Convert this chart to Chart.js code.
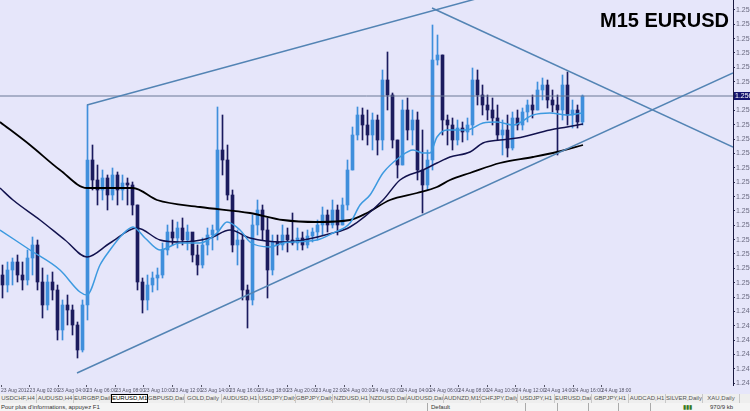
<!DOCTYPE html>
<html>
<head>
<meta charset="utf-8">
<script src="https://cdn.jsdelivr.net/npm/chart.js@4.4.0/dist/chart.umd.min.js"></script>
<style>
body { margin: 0; width: 750px; height: 411px; overflow: hidden; background: #e6e6fa; font-family: "Liberation Sans", Arial, sans-serif; position: relative; }
#wrap { position: absolute; left: 0; top: 0; width: 750px; height: 394px; }
#title { position: absolute; left: 600px; top: 10px; font: bold 20px/20px "Liberation Sans", Arial, sans-serif; color: #000; white-space: nowrap; }
#tabs { position: absolute; left: 0; top: 394px; width: 750px; height: 9px; background: #eeeeee; display: flex; font-size: 6px; line-height: 9px; color: #555; }
#tabs span { width: 37px; flex: none; text-align: center; white-space: nowrap; overflow: hidden; box-sizing: border-box; border-right: 1px solid #c8c8c8; }
#tabs span.on { background: #fff; border: 1px solid #000; line-height: 7px; color: #000; }
#status { position: absolute; left: 0; top: 403px; width: 750px; height: 8px; background: #f4f4f4; font-size: 6px; line-height: 8px; color: #333; }
#status span { position: absolute; top: 0; white-space: nowrap; }
#status .sep { border-left: 1px solid #aaa; height: 8px; }
</style>
</head>
<body>
<div id="wrap"><canvas id="chart" width="750" height="394"></canvas></div>
<div id="title">M15 EURUSD</div>
<div id="tabs"></div>
<div id="status">
  <span style="left:1px">Pour plus d'informations, appuyez F1</span>
  <span class="sep" style="left:427px"></span><span style="left:431px">Default</span>
  <span class="sep" style="left:525px"></span>
  <span class="sep" style="left:557px"></span>
  <span class="sep" style="left:588px"></span>
  <span class="sep" style="left:618px"></span>
  <span class="sep" style="left:650px"></span>
  <span style="left:683px;color:#3a7a20">▮▮▮</span>
  <span style="left:710px">970/9 kb</span>
</div>
<script>
// M15 bars
const firstOpen = 1.25075;
const highs = [
    1.25105, 1.25114, 1.25126, 1.25135, 1.25114, 1.25150, 1.25189, 1.25180, 1.25096, 1.25075,
    1.25084, 1.25045, 1.25000, 1.25015, 1.24985, 1.24934, 1.25000, 1.25585, 1.25465, 1.25405,
    1.25390, 1.25375, 1.25396, 1.25384, 1.25375, 1.25366, 1.25354, 1.25285, 1.25066, 1.25075,
    1.25084, 1.25096, 1.25171, 1.25225, 1.25240, 1.25234, 1.25246, 1.25225, 1.25195, 1.25165,
    1.25186, 1.25216, 1.25225, 1.25579, 1.25555, 1.25465, 1.25330, 1.25210, 1.25195, 1.25045,
    1.25255, 1.25300, 1.25285, 1.25246, 1.25195, 1.25195, 1.25225, 1.25216, 1.25261, 1.25216,
    1.25204, 1.25210, 1.25216, 1.25240, 1.25279, 1.25270, 1.25300, 1.25285, 1.25306, 1.25420,
    1.25519, 1.25579, 1.25576, 1.25570, 1.25561, 1.25555, 1.25690, 1.25744, 1.25621, 1.25480,
    1.25600, 1.25606, 1.25570, 1.25564, 1.25510, 1.25450, 1.25825, 1.25795, 1.25735, 1.25555,
    1.25546, 1.25540, 1.25534, 1.25546, 1.25696, 1.25690, 1.25645, 1.25615, 1.25606, 1.25585,
    1.25540, 1.25555, 1.25564, 1.25570, 1.25576, 1.25600, 1.25615, 1.25654, 1.25666, 1.25660,
    1.25630, 1.25615, 1.25675, 1.25684, 1.25600, 1.25585, 1.25615
];
const lows = [
    1.25006, 1.25024, 1.25045, 1.25054, 1.25030, 1.25045, 1.25075, 1.25030, 1.24946, 1.24970,
    1.25000, 1.24880, 1.24880, 1.24925, 1.24895, 1.24826, 1.24844, 1.24940, 1.25330, 1.25285,
    1.25300, 1.25270, 1.25300, 1.25285, 1.25300, 1.25285, 1.25255, 1.25030, 1.24961, 1.24970,
    1.25024, 1.25030, 1.25066, 1.25135, 1.25165, 1.25156, 1.25165, 1.25150, 1.25114, 1.25075,
    1.25096, 1.25135, 1.25150, 1.25180, 1.25375, 1.25300, 1.25144, 1.25105, 1.25000, 1.24916,
    1.24985, 1.25195, 1.25180, 1.25006, 1.25075, 1.25135, 1.25150, 1.25144, 1.25165, 1.25150,
    1.25150, 1.25156, 1.25174, 1.25180, 1.25195, 1.25204, 1.25216, 1.25195, 1.25225, 1.25270,
    1.25390, 1.25480, 1.25480, 1.25465, 1.25450, 1.25435, 1.25450, 1.25570, 1.25456, 1.25366,
    1.25405, 1.25480, 1.25465, 1.25360, 1.25261, 1.25330, 1.25390, 1.25705, 1.25495, 1.25465,
    1.25450, 1.25465, 1.25474, 1.25480, 1.25495, 1.25585, 1.25555, 1.25540, 1.25525, 1.25480,
    1.25435, 1.25429, 1.25450, 1.25510, 1.25510, 1.25534, 1.25546, 1.25570, 1.25600, 1.25576,
    1.25564, 1.25435, 1.25540, 1.25525, 1.25516, 1.25516, 1.25525
];
const closes = [
    1.25045, 1.25090, 1.25114, 1.25075, 1.25060, 1.25126, 1.25165, 1.25054, 1.24985, 1.25054,
    1.25030, 1.24910, 1.24985, 1.24970, 1.24925, 1.24850, 1.24985, 1.25420, 1.25360, 1.25330,
    1.25366, 1.25315, 1.25375, 1.25330, 1.25351, 1.25345, 1.25285, 1.25054, 1.25000, 1.25045,
    1.25066, 1.25075, 1.25150, 1.25204, 1.25186, 1.25216, 1.25180, 1.25204, 1.25135, 1.25105,
    1.25165, 1.25195, 1.25210, 1.25450, 1.25420, 1.25315, 1.25165, 1.25180, 1.25030, 1.25000,
    1.25225, 1.25270, 1.25210, 1.25090, 1.25174, 1.25165, 1.25195, 1.25180, 1.25171, 1.25186,
    1.25165, 1.25192, 1.25204, 1.25225, 1.25255, 1.25225, 1.25270, 1.25225, 1.25285, 1.25390,
    1.25495, 1.25555, 1.25525, 1.25495, 1.25540, 1.25480, 1.25660, 1.25615, 1.25480, 1.25405,
    1.25570, 1.25510, 1.25540, 1.25390, 1.25345, 1.25420, 1.25720, 1.25735, 1.25540, 1.25525,
    1.25480, 1.25516, 1.25504, 1.25525, 1.25660, 1.25615, 1.25585, 1.25570, 1.25546, 1.25495,
    1.25510, 1.25456, 1.25546, 1.25525, 1.25564, 1.25585, 1.25570, 1.25630, 1.25645, 1.25600,
    1.25585, 1.25570, 1.25645, 1.25555, 1.25570, 1.25534, 1.25612
];

// moving averages, [bar index, price]
const fastMA = [
    [-0.5, 1.25210], [5.5, 1.25150], [11.5, 1.25090], [15.5, 1.25024], [16.9, 1.25015],
    [19.5, 1.25105], [21.5, 1.25150], [23.9, 1.25195], [26.1, 1.25219], [28.5, 1.25186],
    [31.5, 1.25150], [35.5, 1.25171], [39.5, 1.25171], [42.9, 1.25201], [44.9, 1.25234],
    [47.5, 1.25210], [49.5, 1.25174], [53.5, 1.25159], [56.1, 1.25171], [62.9, 1.25180],
    [66.1, 1.25201], [69.5, 1.25231], [71.5, 1.25285], [73.5, 1.25315], [76.1, 1.25381],
    [79.5, 1.25429], [82.1, 1.25450], [84.1, 1.25441], [85.5, 1.25441], [86.9, 1.25489],
    [88.9, 1.25510], [92.9, 1.25510], [96.1, 1.25531], [98.9, 1.25534], [102.1, 1.25525],
    [106.1, 1.25555], [109.5, 1.25561], [112.9, 1.25555], [116.1, 1.25561]
];
const midMA = [
    [-0.5, 1.25336], [2.1, 1.25300], [7.5, 1.25240], [12.5, 1.25180], [16.9, 1.25129],
    [21.5, 1.25171], [26.9, 1.25216], [31.5, 1.25180], [35.5, 1.25174], [41.5, 1.25186],
    [45.5, 1.25210], [49.5, 1.25186], [56.1, 1.25174], [66.1, 1.25201], [69.5, 1.25219],
    [76.1, 1.25300], [79.5, 1.25360], [84.1, 1.25390], [86.9, 1.25411], [89.5, 1.25429],
    [93.5, 1.25444], [96.1, 1.25471], [99.5, 1.25480], [102.9, 1.25486], [109.5, 1.25510],
    [112.9, 1.25519], [116.1, 1.25528]
];
const slowMA = [
    [-0.5, 1.25534], [5.5, 1.25465], [11.5, 1.25390], [16.9, 1.25336], [26.1, 1.25336],
    [30.9, 1.25300], [39.5, 1.25279], [49.5, 1.25261], [56.1, 1.25240], [62.9, 1.25234],
    [69.5, 1.25240], [72.9, 1.25261], [77.5, 1.25300], [82.9, 1.25321], [86.9, 1.25339],
    [89.5, 1.25360], [93.5, 1.25381], [99.5, 1.25411], [106.1, 1.25429], [110.9, 1.25444],
    [116.1, 1.25465]
];

// drawn objects
const channelTop = [[16.9, 1.25585], [99.5, 1.25923]];
const channelBottom = [[14.9, 1.24781], [146.1, 1.25681]];
const falling = [[85.9, 1.25876], [146.1, 1.25459]];
const level = [[-0.5, 1.25612], [146.1, 1.25612]];
const currentPrice = 1.25612;

const priceTicks = [
    1.25870, 1.25827, 1.25784, 1.25741, 1.25698, 1.25655, 1.25612, 1.25569, 1.25526,
    1.25483, 1.25440, 1.25396, 1.25353, 1.25310, 1.25267, 1.25224, 1.25181, 1.25138,
    1.25095, 1.25052, 1.25009, 1.24966, 1.24923, 1.24880, 1.24837, 1.24794, 1.24751
];
const dateLabels = [
    '23 Aug 2012', '23 Aug 02:00', '23 Aug 04:00', '23 Aug 06:00', '23 Aug 08:00',
    '23 Aug 10:00', '23 Aug 12:00', '23 Aug 14:00', '23 Aug 16:00', '23 Aug 18:00',
    '23 Aug 20:00', '23 Aug 22:00', '24 Aug 00:00', '24 Aug 02:00', '24 Aug 04:00',
    '24 Aug 06:00', '24 Aug 08:00', '24 Aug 10:00', '24 Aug 12:00', '24 Aug 14:00',
    '24 Aug 16:00', '24 Aug 18:00'
];
const tabNames = [
    'USDCHF,H4', 'AUDUSD,H4', 'EURGBP,Daily', 'EURUSD,M15', 'GBPUSD,Daily', 'GOLD,Daily',
    'AUDUSD,H1', 'USDJPY,Daily', 'GBPJPY,Daily', 'NZDUSD,H1', 'NZDUSD,Daily', 'AUDUSD,Daily',
    'AUDNZD,M15', 'CHFJPY,Daily', 'USDJPY,H1', 'EURUSD,Daily', 'GBPJPY,H1', 'AUDCAD,H1',
    'SILVER,Daily', 'XAU,Daily'
];

const upColor = '#3f8fdc';
const downColor = '#1b1b5e';
const axisFont = { family: "'Liberation Sans', Arial, sans-serif", size: 7 };

const tabs = document.getElementById('tabs');
tabNames.forEach(function(name) {
    const s = document.createElement('span');
    s.textContent = name;
    if (name === 'EURUSD,M15') s.className = 'on';
    tabs.appendChild(s);
});
const arrows = document.createElement('span');
arrows.textContent = '◂ ▸';
arrows.style.border = 'none';
tabs.appendChild(arrows);

const opens = [firstOpen].concat(closes.slice(0, -1));
const barColors = closes.map((c, i) => c >= opens[i] ? upColor : downColor);
const pts = arr => arr.map(p => ({ x: p[0], y: p[1] }));

const lineStyle = (data, color, width, order) => ({
    type: 'line',
    data: pts(data),
    borderColor: color,
    borderWidth: width,
    pointRadius: 0,
    fill: false,
    order: order
});

const priceTag = {
    id: 'priceTag',
    afterDraw(chart) {
        const ctx = chart.ctx;
        const y = chart.scales.y.getPixelForValue(currentPrice);
        ctx.save();
        ctx.fillStyle = '#14146e';
        ctx.fillRect(734, y - 4, 16, 8);
        ctx.fillStyle = '#ffffff';
        ctx.font = "7px 'Liberation Sans', Arial";
        ctx.textBaseline = 'middle';
        ctx.fillText(currentPrice.toFixed(5), 735, y);
        ctx.restore();
    }
};

const fast = lineStyle(fastMA, '#3d9ae0', 1.5, 2);
fast.cubicInterpolationMode = 'monotone';
const mid = lineStyle(midMA, '#12124e', 1.5, 2);
mid.cubicInterpolationMode = 'monotone';
const slow = lineStyle(slowMA, '#000000', 1.8, 2);
slow.cubicInterpolationMode = 'monotone';

new Chart(document.getElementById('chart'), {
    type: 'bar',
    data: {
        datasets: [
            lineStyle(channelTop, '#5384b4', 1.5, 0),
            lineStyle(channelBottom, '#5384b4', 1.5, 0),
            lineStyle(falling, '#5384b4', 1.5, 0),
            lineStyle(level, '#6b7896', 1, 0),
            fast, mid, slow,
            {
                type: 'bar',
                data: closes.map((c, i) => ({ x: i, y: [opens[i], c] })),
                backgroundColor: barColors,
                barThickness: 3,
                grouped: false,
                order: 3
            },
            {
                type: 'bar',
                data: closes.map((c, i) => ({ x: i, y: [lows[i], highs[i]] })),
                backgroundColor: barColors,
                barThickness: 1,
                grouped: false,
                order: 4
            }
        ]
    },
    options: {
        responsive: false,
        animation: false,
        layout: { padding: 0 },
        scales: {
            x: {
                type: 'linear',
                min: -0.5,
                max: 146.1,
                offset: false,
                afterBuildTicks: s => { s.ticks = dateLabels.map((d, k) => ({ value: -0.3 + k * 5.72 })); },
                afterFit: s => { s.height = 9; s.paddingLeft = 0; s.paddingRight = 0; },
                ticks: {
                    autoSkip: false,
                    maxRotation: 0,
                    align: 'start',
                    padding: 1,
                    color: '#555566',
                    font: { family: "'Liberation Sans', Arial, sans-serif", size: 5 },
                    callback: (v, i) => dateLabels[i]
                },
                grid: { drawOnChartArea: false, tickLength: 2, color: '#555566', offset: false },
                border: { display: false }
            },
            y: {
                position: 'right',
                min: 1.24745,
                max: 1.25900,
                afterBuildTicks: s => { s.ticks = priceTicks.map(v => ({ value: v })); },
                afterFit: s => { s.width = 17; s.paddingTop = 0; s.paddingBottom = 0; },
                ticks: {
                    padding: 1,
                    color: '#6a6a80',
                    font: axisFont,
                    callback: v => v.toFixed(5)
                },
                grid: { drawOnChartArea: false, tickLength: 2, color: '#303050' },
                border: { display: true, color: '#1a1a40', width: 1 }
            }
        },
        plugins: {
            legend: { display: false },
            tooltip: { enabled: false }
        }
    },
    plugins: [priceTag]
});
</script>
</body>
</html>
